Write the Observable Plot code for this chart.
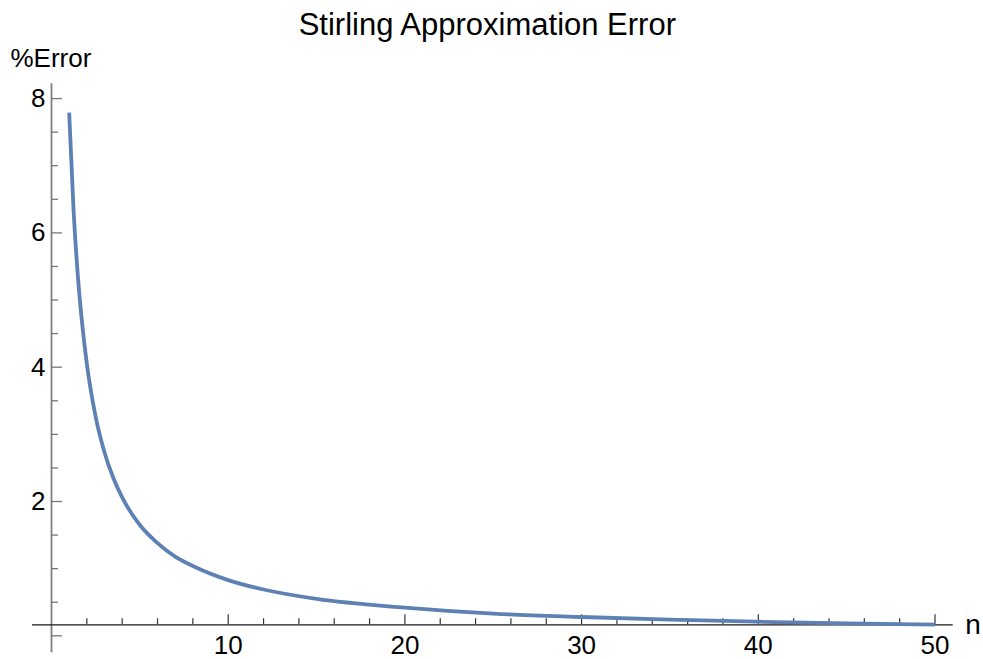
<!DOCTYPE html>
<html>
<head>
<meta charset="utf-8">
<script src="https://cdn.jsdelivr.net/npm/d3@7"></script>
<script src="https://cdn.jsdelivr.net/npm/@observablehq/plot@0.6"></script>
<style>
  html, body { margin: 0; padding: 0; background: #fff; }
  #chart svg { display: block; }
</style>
</head>
<body>
<div id="chart"></div>
<script>
// ---- data ----
const nValues   = [1, 1.25, 1.5, 1.75, 2, 2.5, 3, 3.5, 4, 5, 6, 7, 8, 10, 12, 15, 20, 25, 30, 35, 40, 45, 50];
const errorPct  = [7.79, 6.33, 5.33, 4.61, 4.05, 3.26, 2.73, 2.35, 2.06, 1.65, 1.38, 1.18, 1.04, 0.83, 0.69, 0.55, 0.42, 0.33, 0.28, 0.24, 0.21, 0.185, 0.167];
const xMajorTicks = [10, 20, 30, 40, 50];
const xMinorTicks = [2, 4, 6, 8, 12, 14, 16, 18, 22, 24, 26, 28, 32, 34, 36, 38, 42, 44, 46, 48];
const yMajorTicks = [0, 2, 4, 6, 8];
const yTickLabels = [2, 4, 6, 8];
const yMinorTicks = [0.5, 1, 1.5, 2.5, 3, 3.5, 4.5, 5, 5.5, 6.5, 7, 7.5];
const xDomain = [0, 51.03];
const yDomain = [0.164, 8.22];
const axisOriginY = [0.164];
const axisOriginX = [0];
const titleText = ["Stirling Approximation Error"];
const yLabel = ["%Error"];
const xLabel = ["n"];

const data = nValues.map((n, i) => ({n, err: errorPct[i]}));

// ---- layout ----
const W = 983, H = 659;
const mL = 51, mR = 30.3, mT = 83.3, mB = 34.7;
const frameW = W - mL - mR, frameH = H - mT - mB;
const font = "Liberation Sans, Arial, sans-serif";
const lineColor = "#5E81B5";

const chart = Plot.plot({
  width: W,
  height: H,
  marginLeft: mL, marginRight: mR, marginTop: mT, marginBottom: mB,
  style: {fontFamily: font, background: "#fff", overflow: "visible"},
  x: {domain: xDomain, axis: null},
  y: {domain: yDomain, axis: null},
  marks: [
    // axes lines
    Plot.ruleX(axisOriginX, {x: d => d, insetBottom: -28, stroke: "#808080", strokeWidth: 1.8}),
    Plot.ruleY(axisOriginY, {y: d => d, insetLeft: -19, stroke: "#1a1a1a", strokeWidth: 1.3}),
    // x ticks
    Plot.ruleX(xMajorTicks, {x: d => d, insetTop: frameH - 10, stroke: "#333", strokeWidth: 1.2}),
    Plot.ruleX(xMinorTicks, {x: d => d, insetTop: frameH - 6, stroke: "#333", strokeWidth: 1.2}),
    // y ticks
    Plot.ruleY(yMajorTicks, {y: d => d, insetRight: frameW - 11, stroke: "#777", strokeWidth: 1.3}),
    Plot.ruleY(yMinorTicks, {y: d => d, insetRight: frameW - 7, stroke: "#777", strokeWidth: 1.3}),
    // tick labels
    Plot.text(xMajorTicks, {x: d => d, frameAnchor: "bottom", text: d => String(d), lineAnchor: "top", dy: 11, fontSize: 26, fill: "#000"}),
    Plot.text(yTickLabels, {y: d => d, frameAnchor: "left", text: d => String(d), textAnchor: "end", lineAnchor: "middle", dx: -6, fontSize: 26, fill: "#000"}),
    // axis labels
    Plot.text(yLabel, {frameAnchor: "top-left", text: d => d, textAnchor: "start", lineAnchor: "middle", dx: -41, dy: -25, fontSize: 26, fill: "#000"}),
    Plot.text(xLabel, {frameAnchor: "bottom-right", text: d => d, textAnchor: "start", lineAnchor: "middle", dx: 12, dy: 0, fontSize: 28, fill: "#000"}),
    // title
    Plot.text(titleText, {frameAnchor: "top", text: d => d, textAnchor: "middle", lineAnchor: "bottom", dx: -15, dy: -49, fontSize: 31, fill: "#000"}),
    // curve
    Plot.line(data, {x: "n", y: "err", stroke: lineColor, strokeWidth: 3.8, curve: "monotone-x", strokeLinecap: "butt"})
  ]
});
document.getElementById("chart").appendChild(chart);
</script>
</body>
</html>
